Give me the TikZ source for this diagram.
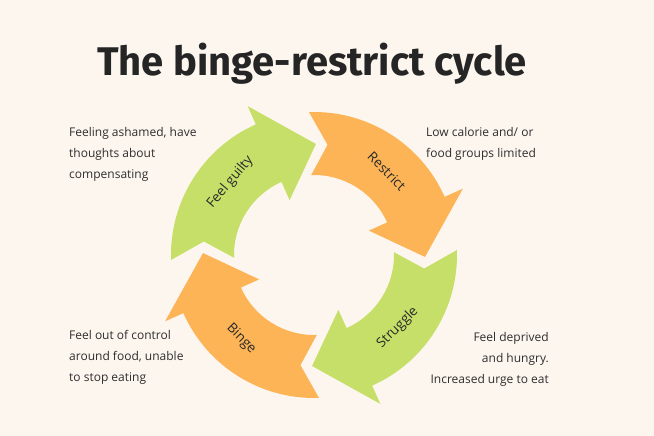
\documentclass[tikz,border=0pt]{standalone}
\usepackage{fontspec}
\setmainfont{Open Sans}
\newfontfamily\titlefont{Fira Sans}
\usetikzlibrary{positioning}
\definecolor{bgcream}{HTML}{FDF6EF}
\definecolor{leafgreen}{HTML}{C5DF69}
\definecolor{peach}{HTML}{FDB456}
\definecolor{inkgray}{HTML}{2E2E2E}
\tikzset{
  sidetext/.style={font=\fontsize{12}{21}\selectfont, text=inkgray, inner sep=0pt, align=left},
  steplabel/.style={font=\fontsize{13.5}{15}\selectfont, text=inkgray!90!black, inner sep=0pt}
}
\begin{document}
\begin{tikzpicture}[x=1pt,y=1pt]
% background and size
\fill[bgcream] (0,0) rectangle (654,436);
\useasboundingbox (0,0) rectangle (654,436);

% title
\node[font=\titlefont\fontsize{40}{42}\selectfont\bfseries, text=inkgray!80!black] (title) at (312,372) {The binge-restrict cycle};

% the four arrows of the cycle
\begin{scope}[shift={(314,181)}]
\foreach \a/\col/\nm/\txt/\rot in {182/leafgreen/guilty/Feel guilty/50,
                                   92/peach/restrict/Restrict/-45,
                                   2/leafgreen/struggle/Struggle/45,
                                   -88/peach/binge/Binge/-45}{
  \fill[\col] (\a:143) arc[start angle=\a, end angle=\a-68, radius=143]
    -- ({\a-68}:163) -- ({\a-93}:111) -- ({\a-68}:60) -- ({\a-68}:80)
    arc[start angle=\a-68, end angle=\a, radius=80] -- ({\a-9}:111) -- cycle;
  \node[steplabel, rotate=\rot] (\nm) at ({\a-43}:111) {\txt};
}
\end{scope}

% descriptions
\node[sidetext, anchor=north west] (ashamed) at (69,309) {Feeling ashamed, have\\thoughts about\\compensating};
\node[sidetext, anchor=north west] (lowcal) at (426,309) {Low calorie and/ or\\food groups limited};
\node[sidetext, anchor=north west] (outofcontrol) at (69,106) {Feel out of control\\around food, unable\\to stop eating};
\node[sidetext, anchor=north east, align=right] (deprived) at (549,104) {Feel deprived\\and hungry.\\Increased urge to eat};
\end{tikzpicture}
\end{document}
